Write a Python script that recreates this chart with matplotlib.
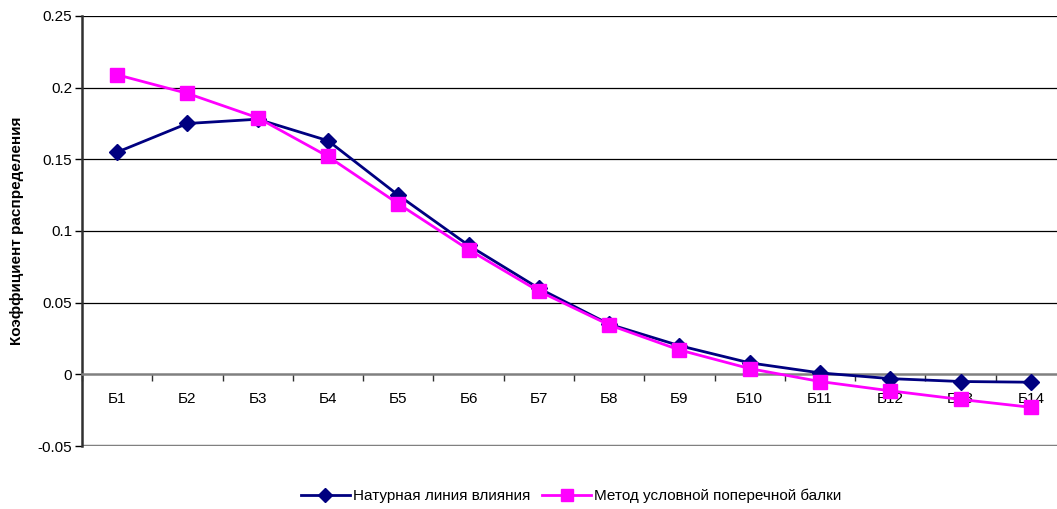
import matplotlib.pyplot as plt
import numpy as np

plt.rcParams['font.family'] = ['Liberation Sans', 'DejaVu Sans']

balki = ['Б1', 'Б2', 'Б3', 'Б4', 'Б5', 'Б6', 'Б7', 'Б8', 'Б9', 'Б10', 'Б11', 'Б12', 'Б13', 'Б14']
naturnaya = [0.155, 0.175, 0.178, 0.163, 0.125, 0.090, 0.060, 0.035, 0.020, 0.008,
             0.001, -0.003, -0.005, -0.0055]
metod = [0.209, 0.196, 0.179, 0.152, 0.119, 0.087, 0.058, 0.0345, 0.017, 0.004,
         -0.005, -0.0115, -0.0175, -0.023]
yticks = [-0.05, 0, 0.05, 0.1, 0.15, 0.2, 0.25]
ytick_labels = ['-0.05', '0', '0.05', '0.1', '0.15', '0.2', '0.25']

fig = plt.figure(figsize=(10.57, 5.09), dpi=100)
ax = fig.add_axes([82 / 1057, 1 - 446 / 509, 984 / 1057, 430 / 509])

x = np.arange(len(balki))
ln1, = ax.plot(x, naturnaya, color='#000080', lw=2, marker='D', ms=8,
               label='Натурная линия влияния', zorder=3)
ln2, = ax.plot(x, metod, color='#FF00FF', lw=2, marker='s', ms=10,
               label='Метод условной поперечной балки', zorder=4)

ax.set_xlim(-0.5, len(balki) - 0.5)
ax.set_ylim(-0.05, 0.25)

# сетка
for v in [0.05, 0.1, 0.15, 0.2, 0.25]:
    ax.axhline(v, color='black', lw=0.9, zorder=1)
ax.axhline(-0.05, color='#808080', lw=2.5, zorder=1)

for s in ['top', 'right']:
    ax.spines[s].set_visible(False)
ax.spines['left'].set_linewidth(1.8)
ax.spines['left'].set_color('#303030')
ax.spines['bottom'].set_position(('data', 0))
ax.spines['bottom'].set_color('#808080')
ax.spines['bottom'].set_linewidth(1.8)

ax.set_yticks(yticks)
ax.set_yticklabels(ytick_labels)
ax.tick_params(axis='y', direction='out', length=5, width=1, labelsize=11, pad=2)

ax.set_xticks(x)
ax.set_xticklabels(balki)
ax.set_xticks(np.arange(len(balki) + 1) - 0.5, minor=True)
ax.tick_params(axis='x', which='major', length=0, labelsize=11, pad=13)
ax.tick_params(axis='x', which='minor', direction='out', length=5, width=1, color='#303030')

ax.set_ylabel('Коэффициент распределения', fontsize=11, fontweight='bold', labelpad=10)

fig.legend(handles=[ln1, ln2], loc='center', bbox_to_anchor=(571 / 1057, 0.026),
           ncol=2, frameon=False, fontsize=11, handlelength=3.2,
           handletextpad=0.2, columnspacing=0.8, markerscale=0.9)

fig.savefig('out.png', dpi=100)
